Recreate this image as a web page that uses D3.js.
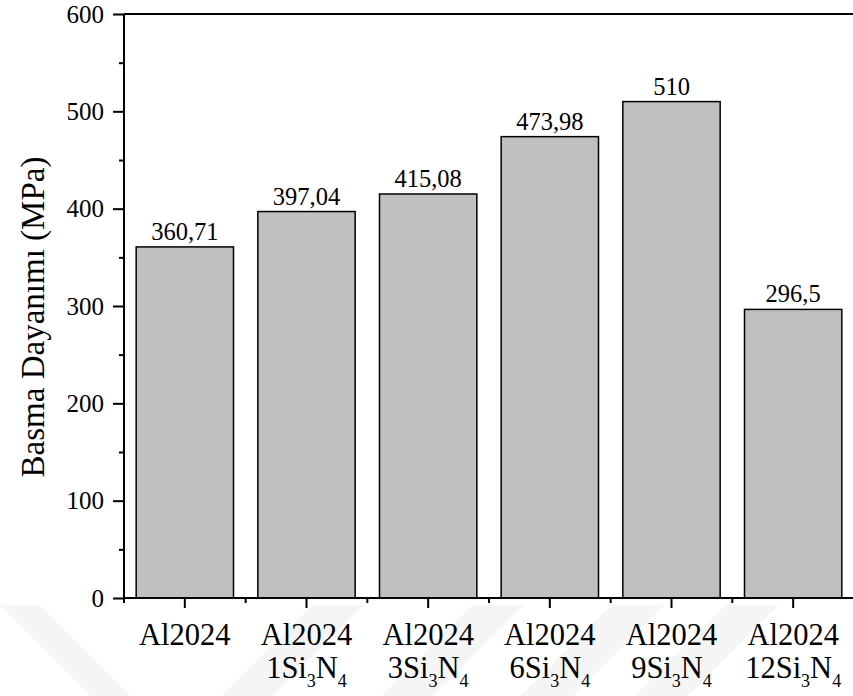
<!DOCTYPE html>
<html><head><meta charset="utf-8">
<script src="https://cdn.jsdelivr.net/npm/d3@7"></script>
<style>
html,body{margin:0;padding:0;background:#fff;}
svg text{font-family:"Liberation Serif","Times New Roman",serif;fill:#000;}
</style></head>
<body>
<svg id="chart" width="853" height="696"></svg>
<script>
// Data
const categories = ["Al2024", "Al2024 1Si3N4", "Al2024 3Si3N4", "Al2024 6Si3N4", "Al2024 9Si3N4", "Al2024 12Si3N4"];
const catLine1 = ["Al2024", "Al2024", "Al2024", "Al2024", "Al2024", "Al2024"];
const catPrefix = [null, "1", "3", "6", "9", "12"];
const values = [360.71, 397.04, 415.08, 473.98, 510, 296.5];
const valueLabels = ["360,71", "397,04", "415,08", "473,98", "510", "296,5"];
const yTicks = [0, 100, 200, 300, 400, 500, 600];
const yMinorTicks = [50, 150, 250, 350, 450, 550];
const yTitle = "Basma Dayanımı (MPa)";

const svg = d3.select("#chart");
const mLeft = 124, mRight = 854, mTop = 14, mBottom = 598;

// faint background watermark stripes
const wm = svg.append("g").attr("fill", "#f5f5f5");
wm.append("polygon").attr("points", "0,605 40,605 131,696 91,696");
[312, 472, 612, 726].forEach(t => {
  wm.append("polygon").attr("points", `${t},605 ${t + 52},605 ${t - 39},696 ${t - 91},696`);
});

const x = d3.scaleBand().domain(categories).range([mLeft, mRight]).paddingInner(0.2).paddingOuter(0.1);
const y = d3.scaleLinear().domain([0, 600]).range([mBottom, mTop]);

// Bars
svg.append("g").selectAll("rect").data(values).join("rect")
  .attr("x", (d, i) => x(categories[i]))
  .attr("y", d => y(d))
  .attr("width", x.bandwidth())
  .attr("height", d => y(0) - y(d))
  .attr("fill", "#c0c0c0")
  .attr("stroke", "#000")
  .attr("stroke-width", 1.5);

// Value labels
svg.append("g").selectAll("text").data(values).join("text")
  .attr("x", (d, i) => x(categories[i]) + x.bandwidth() / 2)
  .attr("y", d => y(d) - 7)
  .attr("text-anchor", "middle")
  .attr("font-size", 24.5)
  .text((d, i) => valueLabels[i]);

// Y axis
const yAxis = svg.append("g").attr("transform", `translate(${mLeft},0)`)
  .call(d3.axisLeft(y).tickValues(yTicks).tickSize(11).tickPadding(9).tickFormat(d3.format("d")));
yAxis.select(".domain").attr("stroke-width", 2).attr("d", `M0,${mBottom}V${mTop}`);
yAxis.selectAll(".tick line").attr("stroke-width", 2);
yAxis.selectAll(".tick text").attr("font-size", 25);
const yMinor = svg.append("g").attr("transform", `translate(${mLeft},0)`)
  .call(d3.axisLeft(y).tickValues(yMinorTicks).tickSize(5).tickFormat(""));
yMinor.select(".domain").remove();
yMinor.selectAll(".tick line").attr("stroke-width", 2);

// X axis
const xAxis = svg.append("g").attr("transform", `translate(0,${mBottom})`)
  .call(d3.axisBottom(x).tickSize(10).tickFormat(""));
xAxis.select(".domain").attr("stroke-width", 2).attr("d", `M${mLeft},0H${mRight}`);
xAxis.selectAll(".tick line").attr("stroke-width", 2);
// minor x ticks at band boundaries
const step = x.step();
const boundaries = categories.map((c, i) => x(c) - step * x.paddingInner() / 2);
svg.append("g").attr("transform", `translate(0,${mBottom})`).selectAll("line").data(boundaries).join("line")
  .attr("x1", d => d).attr("x2", d => d).attr("y1", 0).attr("y2", 5)
  .attr("stroke", "#000").attr("stroke-width", 2);

// Top frame line
svg.append("line").attr("x1", mLeft).attr("x2", mRight).attr("y1", mTop).attr("y2", mTop)
  .attr("stroke", "#000").attr("stroke-width", 2);

// Category labels
const lab = svg.append("g");
categories.forEach((c, i) => {
  const cx = x(c) + x.bandwidth() / 2;
  lab.append("text").attr("x", cx).attr("y", 645).attr("text-anchor", "middle")
    .attr("font-size", 30.5).text(catLine1[i]);
  if (catPrefix[i] !== null) {
    const t = lab.append("text").attr("x", cx).attr("y", 678).attr("text-anchor", "middle").attr("font-size", 30.5);
    t.append("tspan").text(catPrefix[i] + "Si");
    t.append("tspan").attr("font-size", 18).attr("dy", 9).text("3");
    t.append("tspan").attr("dy", -9).text("N");
    t.append("tspan").attr("font-size", 18).attr("dy", 9).text("4");
  }
});

// Y title
svg.append("text").attr("transform", `translate(44,317) rotate(-90)`)
  .attr("text-anchor", "middle").attr("font-size", 33).text(yTitle);
</script>
</body></html>
